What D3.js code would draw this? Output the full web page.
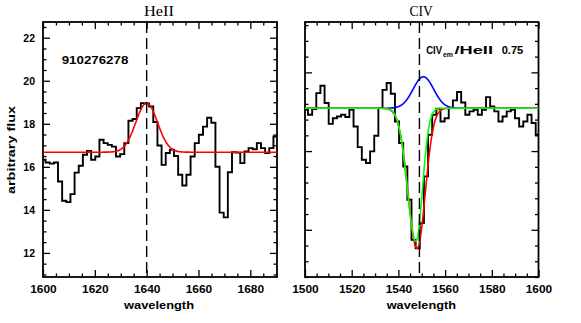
<!DOCTYPE html>
<html><head><meta charset="utf-8">
<script src="https://cdn.jsdelivr.net/npm/d3@7"></script>
<style>body{margin:0;background:#fff}svg{display:block}</style>
</head><body>
<svg id="c" width="581" height="323"></svg>
<script>
// ---- data ----
const heiiWave = [1599.40,1601.00,1602.60,1604.20,1605.79,1607.39,1608.99,1610.59,1612.19,1613.79,
  1615.39,1616.98,1618.58,1620.18,1621.78,1623.38,1624.98,1626.57,1628.17,1629.77,
  1631.37,1632.97,1634.57,1636.17,1637.76,1639.36,1640.96,1642.56,1644.16,1645.76,
  1647.36,1648.95,1650.55,1652.15,1653.75,1655.35,1656.95,1658.54,1660.14,1661.74,
  1663.34,1664.94,1666.54,1668.14,1669.73,1671.33,1672.93,1674.53,1676.13,1677.73,
  1679.33,1680.92,1682.52,1684.12,1685.72,1687.32,1688.92];
const heiiFlux = [16.33,16.20,16.15,16.20,15.32,14.42,14.36,14.73,15.73,16.05,
  16.56,16.74,16.33,16.48,17.26,17.10,17.02,16.94,16.48,16.59,
  17.10,18.14,18.22,18.73,18.96,18.94,18.80,18.08,16.99,16.09,
  16.64,16.80,16.50,15.63,15.13,15.63,16.48,17.10,17.49,17.87,
  18.28,18.05,16.00,13.87,13.65,15.75,16.68,16.66,16.17,16.71,
  16.87,16.82,17.10,16.87,16.64,16.87,17.41];
const civWave = [1499.51,1501.28,1503.06,1504.83,1506.60,1508.38,1510.15,1511.92,1513.69,1515.47,
  1517.24,1519.01,1520.79,1522.56,1524.33,1526.11,1527.88,1529.65,1531.42,1533.20,
  1534.97,1536.74,1538.52,1540.29,1542.06,1543.84,1545.61,1547.38,1549.15,1550.93,
  1552.70,1554.47,1556.25,1558.02,1559.79,1561.56,1563.34,1565.11,1566.88,1568.66,
  1570.43,1572.20,1573.98,1575.75,1577.52,1579.30,1581.07,1582.84,1584.61,1586.39,
  1588.16,1589.93,1591.71,1593.48,1595.25,1597.03,1598.80];
const civFlux = [12.62,12.31,12.67,13.68,14.15,13.05,11.73,12.09,12.20,12.31,
  12.16,12.62,11.56,10.25,9.45,9.24,9.98,10.97,12.73,13.89,
  14.32,13.64,11.88,10.51,9.02,6.91,4.36,3.83,5.42,8.39,
  11.04,12.31,12.69,11.88,12.09,12.73,13.22,13.75,13.09,12.31,
  12.52,12.62,12.31,12.62,13.43,12.84,12.52,11.88,12.20,12.52,
  12.62,12.09,11.56,11.88,12.31,11.78,11.04];
const heiiTicksX = [1600,1620,1640,1660,1680];
const heiiTicksY = [12,14,16,18,20,22];
const civTicksX = [1500,1520,1540,1560,1580,1600];
const civTicksY = [5,10,15];
// fitted model parameters
const heiiFit = {cont:16.68, amp:2.28, center:1640.0, sigma:4.2};
const civCont = 12.72;
const civAbsRed   = {depth:0.70,  center:1548.0, sigmaBlue:3.9,  sigmaRed:3.5};
const civAbsGreen = {depth:0.665, center:1547.5, sigmaBlue:3.65, sigmaRed:2.8};
const civEm  = {amp:2.0, center:1550.7, sigma:4.4};
const heiiRest = 1640, civRest = 1549;
const objectId = "910276278";
const ratioValue = "0.75";

// ---- drawing ----
const svg = d3.select("#c");
const SANS = "'Liberation Sans', Arial, sans-serif";
const SERIF = "'Liberation Serif', 'Times New Roman', serif";

const xL = d3.scaleLinear().domain([1600,1690.3]).range([43,277]);
const yL = d3.scaleLinear().domain([10.88,22.73]).range([277,22]);
const xR = d3.scaleLinear().domain([1500,1600]).range([305,538.5]);
const yR = d3.scaleLinear().domain([2.0,18.2]).range([277,22]);

function gauss(w,c,s){ return Math.exp(-0.5*((w-c)/s)*((w-c)/s)); }

function panel(id, x, y, xMaj, xMinStep, yMaj, yMinStep, yLabels){
  const g = svg.append("g");
  const [x0,x1] = x.range(), [y0,y1] = y.range();
  g.append("clipPath").attr("id",id).append("rect")
    .attr("x",x0).attr("y",y1).attr("width",x1-x0).attr("height",y0-y1);
  const xd = x.domain(), yd = y.domain();
  const xMin = d3.range(Math.ceil(xd[0]/xMinStep)*xMinStep, xd[1]+1e-9, xMinStep).filter(v=>!xMaj.includes(v));
  const yMin = d3.range(Math.ceil(yd[0]/yMinStep)*yMinStep, yd[1]+1e-9, yMinStep).filter(v=>!yMaj.some(m=>Math.abs(m-v)<1e-6));
  const fmt = d3.format("d");
  const add = (axis, tr) => {
    const a = g.append("g").attr("transform",tr).call(axis);
    a.select(".domain").remove();
    a.selectAll("line").attr("stroke","#000").attr("stroke-width",1.3);
    a.attr("font-family",SANS).attr("font-size",10.5).attr("font-weight","bold");
    a.selectAll("text").attr("fill","#000");
    return a;
  };
  const bx = add(d3.axisBottom(x).tickValues(xMaj).tickSize(-7).tickPadding(9).tickFormat(fmt), `translate(0,${y0})`);
  bx.selectAll("text").attr("textLength",26.5).attr("lengthAdjust","spacingAndGlyphs");
  add(d3.axisBottom(x).tickValues(xMin).tickSize(-3.5).tickFormat(""), `translate(0,${y0})`);
  add(d3.axisTop(x).tickValues(xMaj).tickSize(-7).tickFormat(""), `translate(0,${y1})`);
  add(d3.axisTop(x).tickValues(xMin).tickSize(-3.5).tickFormat(""), `translate(0,${y1})`);
  add(d3.axisLeft(y).tickValues(yMaj).tickSize(-7).tickPadding(8).tickFormat(yLabels?fmt:""), `translate(${x0},0)`);
  add(d3.axisLeft(y).tickValues(yMin).tickSize(-3.5).tickFormat(""), `translate(${x0},0)`);
  add(d3.axisRight(y).tickValues(yMaj).tickSize(-7).tickFormat(""), `translate(${x1},0)`);
  add(d3.axisRight(y).tickValues(yMin).tickSize(-3.5).tickFormat(""), `translate(${x1},0)`);
  g.append("rect").attr("x",x0).attr("y",y1).attr("width",x1-x0).attr("height",y0-y1)
    .attr("fill","none").attr("stroke","#000").attr("stroke-width",1.8);
  return g.append("g").attr("clip-path",`url(#${id})`);
}

function histo(plot, x, y, wave, flux){
  const n = wave.length;
  const pts = wave.map((w,i)=>[w,flux[i]]);
  pts.push([2*wave[n-1]-wave[n-2], flux[n-1]]);
  plot.append("path").attr("d", d3.line().x(d=>x(d[0])).y(d=>y(d[1])).curve(d3.curveStepAfter)(pts))
    .attr("fill","none").attr("stroke","#000").attr("stroke-width",1.9).attr("stroke-linejoin","miter");
}
function curve(plot, x, y, pts, color){
  plot.append("path").attr("d", d3.line().x(d=>x(d[0])).y(d=>y(d[1]))(pts))
    .attr("fill","none").attr("stroke",color).attr("stroke-width",1.6);
}
function dashed(plot, x, y, w){
  plot.append("line").attr("x1",x(w)).attr("x2",x(w)).attr("y1",y.range()[1]).attr("y2",y.range()[0])
    .attr("stroke","#000").attr("stroke-width",1.4).attr("stroke-dasharray","11,5");
}

// Left panel: HeII
const pL = panel("clipL", xL, yL, heiiTicksX, 5, heiiTicksY, 0.5, true);
histo(pL, xL, yL, heiiWave, heiiFlux);
const gridL = d3.range(1600, 1690.5, 0.1);
curve(pL, xL, yL, gridL.map(w=>[w, heiiFit.cont + heiiFit.amp*gauss(w,heiiFit.center,heiiFit.sigma)]), "#ff0000");
dashed(pL, xL, yL, heiiRest);

// Right panel: CIV
const pR = panel("clipR", xR, yR, civTicksX, 5, civTicksY, 1, false);
histo(pR, xR, yR, civWave, civFlux);
const gridR = d3.range(1500, 1600.05, 0.1);
const trans = (p,w) => 1 - p.depth*gauss(w, p.center, w<p.center?p.sigmaBlue:p.sigmaRed);
const emis = w => civEm.amp*gauss(w, civEm.center, civEm.sigma);
curve(pR, xR, yR, gridR.map(w=>[w, civCont + emis(w)]), "#0000ff");
curve(pR, xR, yR, gridR.map(w=>[w, civCont*trans(civAbsRed,w)]), "#ff0000");
curve(pR, xR, yR, gridR.map(w=>[w, civCont*trans(civAbsGreen,w)]), "#00ff00");
dashed(pR, xR, yR, civRest);

// Texts
const txt = (x,y,s,o={}) => svg.append("text").attr("x",x).attr("y",y).text(s)
  .attr("font-family",o.family||SANS).attr("font-size",o.size||11)
  .attr("font-weight",o.weight||"bold").attr("fill","#000")
  .attr("textLength",o.len||null).attr("lengthAdjust","spacingAndGlyphs");
txt(144,16,"HeII",{family:SERIF,size:14,weight:"normal",len:30});
txt(409.5,16,"CIV",{family:SERIF,size:14,weight:"normal",len:23.4});
txt(61.7,64,objectId,{size:10.5,len:66.6});
txt(426.2,53.5,"CIV",{size:11,len:16});
txt(443,57,"em",{size:7.5,len:10});
txt(454.5,53.5,"/HeII",{size:11.5,len:38.5});
txt(501.7,53.5,ratioValue,{size:11.5,len:21.6});
txt(124,309,"wavelength",{size:11,len:70});
txt(386.7,309,"wavelength",{size:11,len:69.3});
svg.append("text").attr("transform","translate(15,150) rotate(-90)")
  .attr("text-anchor","middle").text("arbitrary flux")
  .attr("font-family",SANS).attr("font-size",11).attr("font-weight","bold")
  .attr("textLength",88).attr("lengthAdjust","spacingAndGlyphs");
</script>
</body></html>
